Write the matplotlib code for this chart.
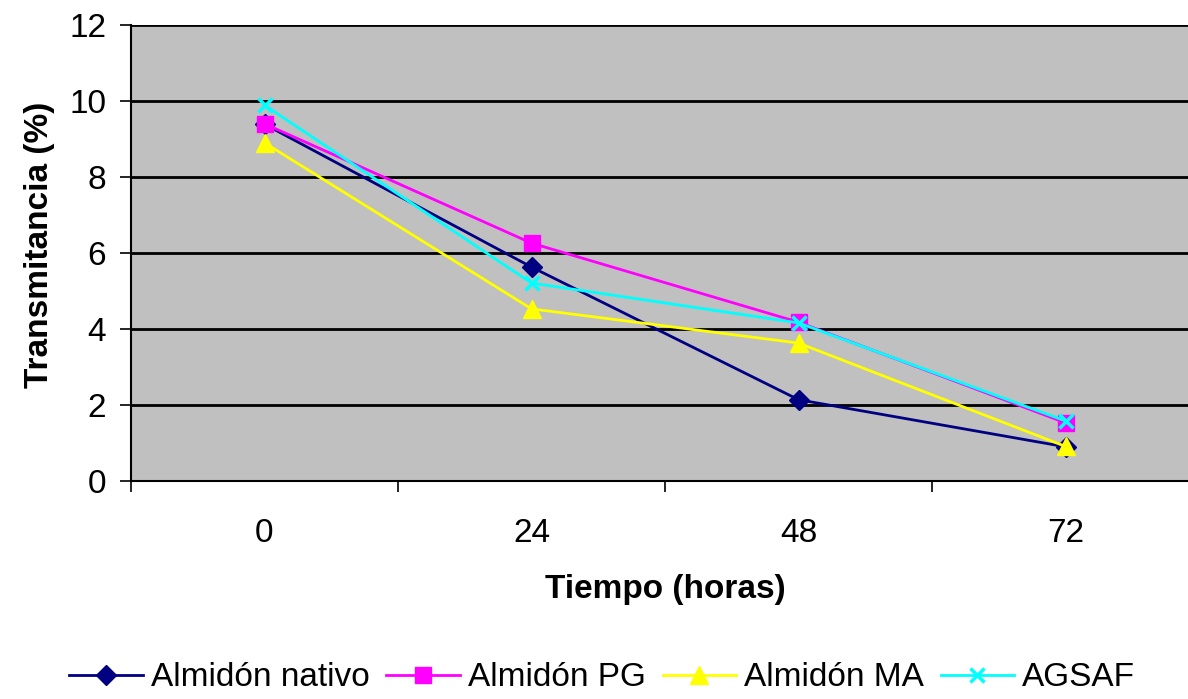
import numpy as np
import matplotlib.pyplot as plt

plt.rcParams['font.family'] = ['Liberation Sans', 'DejaVu Sans']

horas = ['0', '24', '48', '72']
nativo = [9.39, 5.63, 2.14, 0.90]
pg = [9.40, 6.26, 4.18, 1.53]
ma = [8.90, 4.53, 3.63, 0.91]
agsaf = [9.89, 5.21, 4.16, 1.58]

x = np.arange(len(horas))

fig = plt.figure(figsize=(11.88, 6.99), dpi=100)
ax = fig.add_axes([131/1188, 1-481/699, 1068/1188, 456/699])
ax.set_facecolor('#C0C0C0')

ax.plot(x, nativo, color='#000080', marker='D', markersize=10, lw=2, label='Almidón nativo', zorder=5)
ax.plot(x, pg, color='#FF00FF', marker='s', markersize=11, lw=2, label='Almidón PG', zorder=5)
ax.plot(x, ma, color='#FFFF00', marker='^', markersize=13, lw=2, label='Almidón MA', zorder=5)
ax.plot(x, agsaf, color='#00FFFF', marker='x', markersize=10, mew=2.5, lw=2, label='AGSAF', zorder=5)

ax.set_ylim(0, 12)
ax.set_yticks(range(0, 13, 2))
ax.set_xlim(-0.5, 3.5)
ax.set_xticks(x)
ax.set_xticklabels(horas)
ax.set_xticks(np.arange(-0.5, 4, 1), minor=True)
ax.tick_params(axis='x', which='major', length=0, pad=27, labelsize=24)
ax.tick_params(axis='x', which='minor', length=8, width=1.2, direction='out')
ax.tick_params(axis='y', length=8, width=1.2, pad=10, labelsize=24)

ax.grid(axis='y', color='black', lw=2)
ax.set_axisbelow(True)
for s in ['top', 'right']:
    ax.spines[s].set_visible(False)
ax.spines['left'].set_linewidth(1.5)
ax.spines['bottom'].set_linewidth(1.5)

ax.set_xlabel('Tiempo (horas)', fontsize=24, fontweight='bold')
ax.set_ylabel('Transmitancia (%)', fontsize=24, fontweight='bold')
ax.xaxis.set_label_coords((665-131)/1068, -(574-481)/456)
ax.yaxis.set_label_coords(-(131-55)/1068, (481-245)/456)

fig.legend(loc='center', bbox_to_anchor=(0.507, 1-678/699), ncol=4, frameon=False,
           fontsize=24, handlelength=2.2, handletextpad=0.25, columnspacing=0.5)

plt.savefig('out.png')
